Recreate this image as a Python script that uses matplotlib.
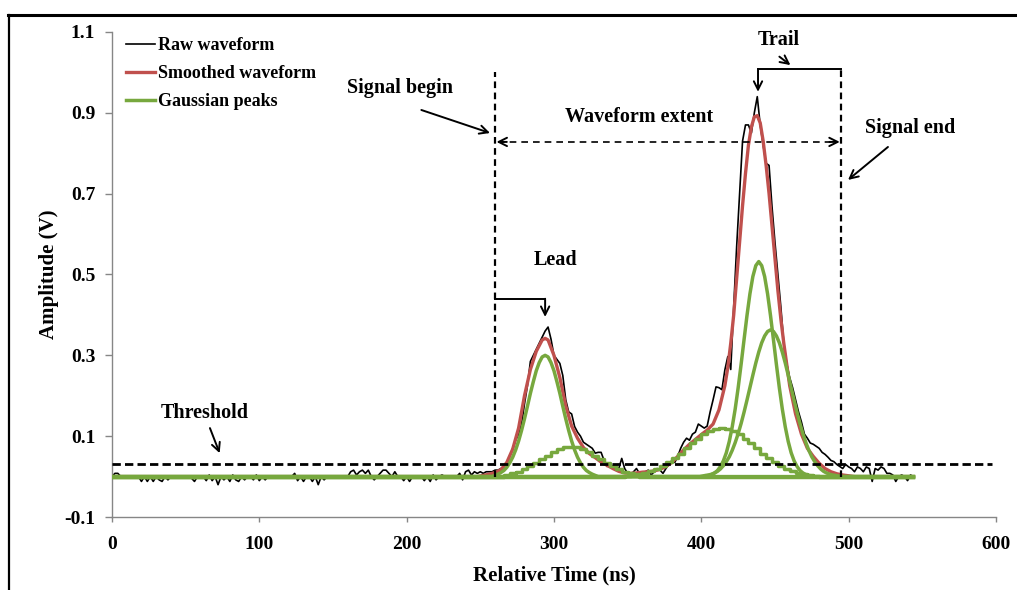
import numpy as np
import matplotlib
matplotlib.use('Agg')
import matplotlib.pyplot as plt
from matplotlib.lines import Line2D

# dados (tempo em ns, amplitude em V)
raw_time = np.arange(0, 545, 2)
raw_vals = [
    0, 0.008, 0.008, 0, 0, 0, 0, 0, 0, 0, -0.012, 0, -0.012, 0, -0.012, 0, -0.008, -0.012, 0, -0.008,
    0, 0, 0, 0, 0, 0, 0, -0.004, -0.012, 0, 0, 0, -0.01, 0.004, -0.01, 0, -0.02, 0, -0.008, 0,
    -0.012, 0.004, -0.008, -0.012, 0, -0.008, 0, 0, -0.008, 0.004, -0.01, 0, -0.008, 0, 0, 0, 0, 0, 0, 0,
    0, 0, 0.008, -0.01, 0, -0.012, 0, 0, -0.012, 0, -0.02, 0, -0.008, 0, 0, 0, 0, 0, 0, 0,
    0, 0.012, 0.016, 0.004, 0.012, 0.016, 0.008, 0.016, 0, -0.008, 0, 0.008, 0.016, 0.016, 0.008, 0, 0.012, 0, 0, -0.01,
    0, -0.012, 0, 0, 0, 0, -0.01, 0, -0.012, 0.004, -0.008, 0, 0.004, 0, 0, 0, 0, 0, 0.008, -0.008,
    0.012, 0.016, 0.004, 0.012, 0.008, 0.012, 0.008, 0.012, 0.012, 0.012, 0.016, 0.016, 0.02, 0.024, 0.035, 0.05, 0.07, 0.09, 0.105, 0.13,
    0.18, 0.225, 0.285, 0.30, 0.315, 0.33, 0.345, 0.36, 0.37, 0.34, 0.30, 0.29, 0.28, 0.25, 0.19, 0.16, 0.155, 0.124, 0.11, 0.10,
    0.085, 0.08, 0.075, 0.07, 0.058, 0.06, 0.06, 0.04, 0.025, 0.03, 0.02, 0.016, 0.02, 0.045, 0.02, 0.008, 0.004, 0.012, 0.02, 0.008,
    0, 0.012, 0.016, 0.004, 0.012, 0.02, 0.016, 0.008, 0.02, 0.03, 0.04, 0.035, 0.05, 0.07, 0.085, 0.095, 0.09, 0.105, 0.11, 0.13,
    0.125, 0.12, 0.125, 0.16, 0.19, 0.222, 0.22, 0.215, 0.264, 0.297, 0.265, 0.42, 0.569, 0.70, 0.83, 0.87, 0.87, 0.85, 0.90, 0.94,
    0.87, 0.82, 0.775, 0.77, 0.668, 0.58, 0.50, 0.42, 0.33, 0.28, 0.245, 0.22, 0.19, 0.16, 0.135, 0.105, 0.095, 0.083, 0.08, 0.075,
    0.07, 0.06, 0.055, 0.048, 0.04, 0.037, 0.03, 0.025, 0.02, 0.03, 0.024, 0.02, 0.012, 0.024, 0.02, 0.012, 0.024, 0.02, -0.012, 0.02,
    0.016, 0.024, 0.02, 0.008, 0.008, 0.004, -0.012, 0, 0.004, 0, -0.01, 0.004, 0,
]

smooth_time = [0, 248, 252, 256, 260, 264, 268, 272, 276, 280, 284, 288, 292, 294, 296, 300, 304, 308, 312, 316,
               320, 324, 328, 332, 336, 340, 344, 348, 352, 356, 360, 364, 368, 372, 376, 380, 384, 388, 392, 396,
               400, 404, 408, 412, 416, 418, 420, 422, 424, 426, 428, 430, 432, 434, 436, 438, 440, 442, 444, 446,
               448, 450, 452, 454, 456, 460, 464, 468, 472, 476, 480, 484, 488, 492, 496, 500, 504, 544]
smooth_vals = [0, 0, 0.003, 0.006, 0.010, 0.017, 0.035, 0.068, 0.120, 0.200, 0.265, 0.310, 0.338, 0.342, 0.338, 0.300, 0.245, 0.175, 0.125, 0.095,
               0.072, 0.057, 0.047, 0.036, 0.028, 0.020, 0.013, 0.009, 0.008, 0.009, 0.011, 0.012, 0.014, 0.018, 0.025, 0.035, 0.050, 0.066, 0.080, 0.092,
               0.104, 0.115, 0.130, 0.165, 0.225, 0.270, 0.330, 0.400, 0.490, 0.580, 0.670, 0.750, 0.820, 0.865, 0.890, 0.893, 0.875, 0.830, 0.770, 0.700,
               0.620, 0.540, 0.460, 0.390, 0.330, 0.225, 0.155, 0.105, 0.070, 0.050, 0.033, 0.020, 0.012, 0.007, 0.004, 0.002, 0, 0]

# picos gaussianos
peak_a_time = np.r_[0, 258, np.arange(262, 327, 2), 330, 544]
peak_a_vals = [0, 0, 0.006, 0.010, 0.015, 0.023, 0.034, 0.048, 0.066, 0.088, 0.114, 0.143, 0.174, 0.206, 0.235, 0.262, 0.282, 0.296,
               0.300, 0.296, 0.282, 0.262, 0.235, 0.206, 0.174, 0.143, 0.114, 0.088, 0.066, 0.048, 0.034, 0.023, 0.015, 0.010, 0.006, 0, 0]

peak_b_time = np.r_[0, 264, np.arange(268, 357, 4), 360, 544]
peak_b_vals = [0, 0, 0.005, 0.008, 0.012, 0.018, 0.025, 0.033, 0.043, 0.052, 0.061, 0.068, 0.072, 0.074,
               0.072, 0.068, 0.061, 0.052, 0.043, 0.033, 0.025, 0.018, 0.012, 0.008, 0.005, 0, 0]

peak_c_time = np.r_[0, 346, np.arange(350, 479, 4), 482, 544]
peak_c_vals = [0, 0, 0.002, 0.004, 0.006, 0.009, 0.014, 0.019, 0.026, 0.035, 0.046, 0.057, 0.070, 0.082, 0.094, 0.105, 0.113, 0.118,
               0.120, 0.118, 0.113, 0.105, 0.094, 0.082, 0.070, 0.057, 0.046, 0.035, 0.026, 0.019, 0.014, 0.009, 0.006, 0.004, 0.002, 0, 0]

peak_d_time = np.r_[0, 401, np.arange(405, 474, 2), 477, 544]
peak_d_vals = [0, 0, 0.003, 0.005, 0.009, 0.015, 0.025, 0.039, 0.059, 0.087, 0.123, 0.167, 0.219, 0.277, 0.338, 0.398, 0.452, 0.495, 0.522,
               0.532, 0.522, 0.495, 0.452, 0.398, 0.338, 0.277, 0.219, 0.167, 0.123, 0.087, 0.059, 0.039, 0.025, 0.015, 0.009, 0.005, 0.003, 0, 0]

peak_e_time = np.r_[0, 399, np.arange(403, 492, 2), 495, 544]
peak_e_vals = [0, 0, 0.003, 0.004, 0.006, 0.009, 0.013, 0.019, 0.027, 0.037, 0.049, 0.065, 0.084, 0.106, 0.131, 0.159, 0.189, 0.220, 0.251,
               0.281, 0.308, 0.331, 0.348, 0.359, 0.363, 0.359, 0.348, 0.331, 0.308, 0.281, 0.251, 0.220, 0.189, 0.159, 0.131, 0.106,
               0.084, 0.065, 0.049, 0.037, 0.027, 0.019, 0.013, 0.009, 0.006, 0.004, 0.003, 0, 0]

threshold = 0.031
signal_begin = 260
signal_end = 495
y_ticks = [-0.1, 0.1, 0.3, 0.5, 0.7, 0.9, 1.1]
y_tick_labels = ['-0.1', '0.1', '0.3', '0.5', '0.7', '0.9', '1.1']

plt.rcParams['font.family'] = 'Liberation Serif'
plt.rcParams['font.weight'] = 'bold'
plt.rcParams['axes.labelweight'] = 'bold'
plt.rcParams['axes.unicode_minus'] = False

verde = '#77A83E'
vermelho = '#C0504D'
cinza = '#868686'

fig = plt.figure(figsize=(10.17, 5.9), dpi=100)
ax = fig.add_axes([0.1101, 0.1237, 0.8692, 0.8221])

# moldura da imagem original
fig.add_artist(Line2D([0.008, 1.0], [0.9754, 0.9754], color='black', lw=2.2, transform=fig.transFigure))
fig.add_artist(Line2D([0.0089, 0.0089], [0.0, 0.9754], color='black', lw=1.6, transform=fig.transFigure))

# curvas
ax.plot(raw_time, raw_vals, color='black', lw=1.2, label='Raw waveform', zorder=2)
ax.plot(smooth_time, smooth_vals, color=vermelho, lw=2.4, label='Smoothed waveform', zorder=3)
ax.plot(peak_a_time, peak_a_vals, color=verde, lw=2.5, label='Gaussian peaks', zorder=4)
ax.plot(peak_b_time, peak_b_vals, color=verde, lw=2.5, drawstyle='steps-mid', zorder=4)
ax.plot(peak_c_time, peak_c_vals, color=verde, lw=2.5, drawstyle='steps-mid', zorder=4)
ax.plot(peak_d_time, peak_d_vals, color=verde, lw=2.5, zorder=4)
ax.plot(peak_e_time, peak_e_vals, color=verde, lw=2.5, zorder=4)

# linhas de referencia
ax.plot([0, 597], [threshold, threshold], color='black', lw=2.0, ls=(0, (3, 1.5)), zorder=5)
ax.plot([signal_begin, signal_begin], [0, 1.0], color='black', lw=1.6, ls=(0, (3, 2)), zorder=5)
ax.plot([signal_end, signal_end], [0, 1.008], color='black', lw=1.6, ls=(0, (3, 2)), zorder=5)

seta = dict(arrowstyle='->,head_length=0.6,head_width=0.3', color='black', lw=1.4, shrinkA=0, shrinkB=0)

# extensao da forma de onda
ax.plot([signal_begin + 2, signal_end - 2], [0.828, 0.828], color='black', lw=1.2, ls=(0, (4, 3)), zorder=5)
ax.annotate('', xy=(signal_begin + 1, 0.828), xytext=(signal_begin + 8, 0.828), arrowprops=seta)
ax.annotate('', xy=(signal_end - 1, 0.828), xytext=(signal_end - 8, 0.828), arrowprops=seta)
ax.text(358, 0.889, 'Waveform extent', fontsize=14.5, ha='center', va='center')

# lead
ax.plot([signal_begin, 294], [0.44, 0.44], color='black', lw=1.4)
ax.annotate('', xy=(294, 0.395), xytext=(294, 0.44), arrowprops=seta)
ax.text(301, 0.536, 'Lead', fontsize=14.5, ha='center', va='center')

# trail
ax.plot([438.5, signal_end], [1.008, 1.008], color='black', lw=1.4)
ax.annotate('', xy=(438.5, 0.952), xytext=(438.5, 1.008), arrowprops=seta)
ax.text(452.5, 1.08, 'Trail', fontsize=14.5, ha='center', va='center')
ax.annotate('', xy=(460.5, 1.018), xytext=(453, 1.039), arrowprops=seta)

# inicio e fim do sinal
ax.text(195.5, 0.961, 'Signal begin', fontsize=14.5, ha='center', va='center')
ax.annotate('', xy=(256.6, 0.850), xytext=(210, 0.907), arrowprops=seta)
ax.text(542, 0.862, 'Signal end', fontsize=14.5, ha='center', va='center')
ax.annotate('', xy=(499.6, 0.734), xytext=(526.7, 0.8155), arrowprops=seta)

# limiar
ax.text(63, 0.157, 'Threshold', fontsize=14.5, ha='center', va='center')
ax.annotate('', xy=(73.1, 0.058), xytext=(66.5, 0.12), arrowprops=seta)

# eixos
ax.set_xlim(0, 600)
ax.set_ylim(-0.1, 1.1)
ax.set_xticks(range(0, 601, 100))
ax.set_yticks(y_ticks)
ax.set_yticklabels(y_tick_labels)
for lado in ['top', 'right']:
    ax.spines[lado].set_visible(False)
for lado in ['left', 'bottom']:
    ax.spines[lado].set_color(cinza)
    ax.spines[lado].set_linewidth(1.0)
ax.tick_params(axis='x', direction='out', length=3.6, width=1, color=cinza, labelsize=14, pad=10)
ax.tick_params(axis='y', direction='out', length=5, width=1, color=cinza, labelsize=14, pad=7)

ax.set_xlabel('Relative Time (ns)', fontsize=15, fontweight='bold')
ax.set_ylabel('Amplitude (V)', fontsize=15, fontweight='bold')
ax.xaxis.set_label_coords(0.501, -0.1)
ax.yaxis.set_label_coords(-0.06, 0.5)

ax.legend(loc='upper left', bbox_to_anchor=(0.0158, 0.99), frameon=False, fontsize=13,
          borderpad=0, borderaxespad=0, handlelength=1.6, handletextpad=0.15, labelspacing=0.62)

plt.savefig('out.png', dpi=100)
